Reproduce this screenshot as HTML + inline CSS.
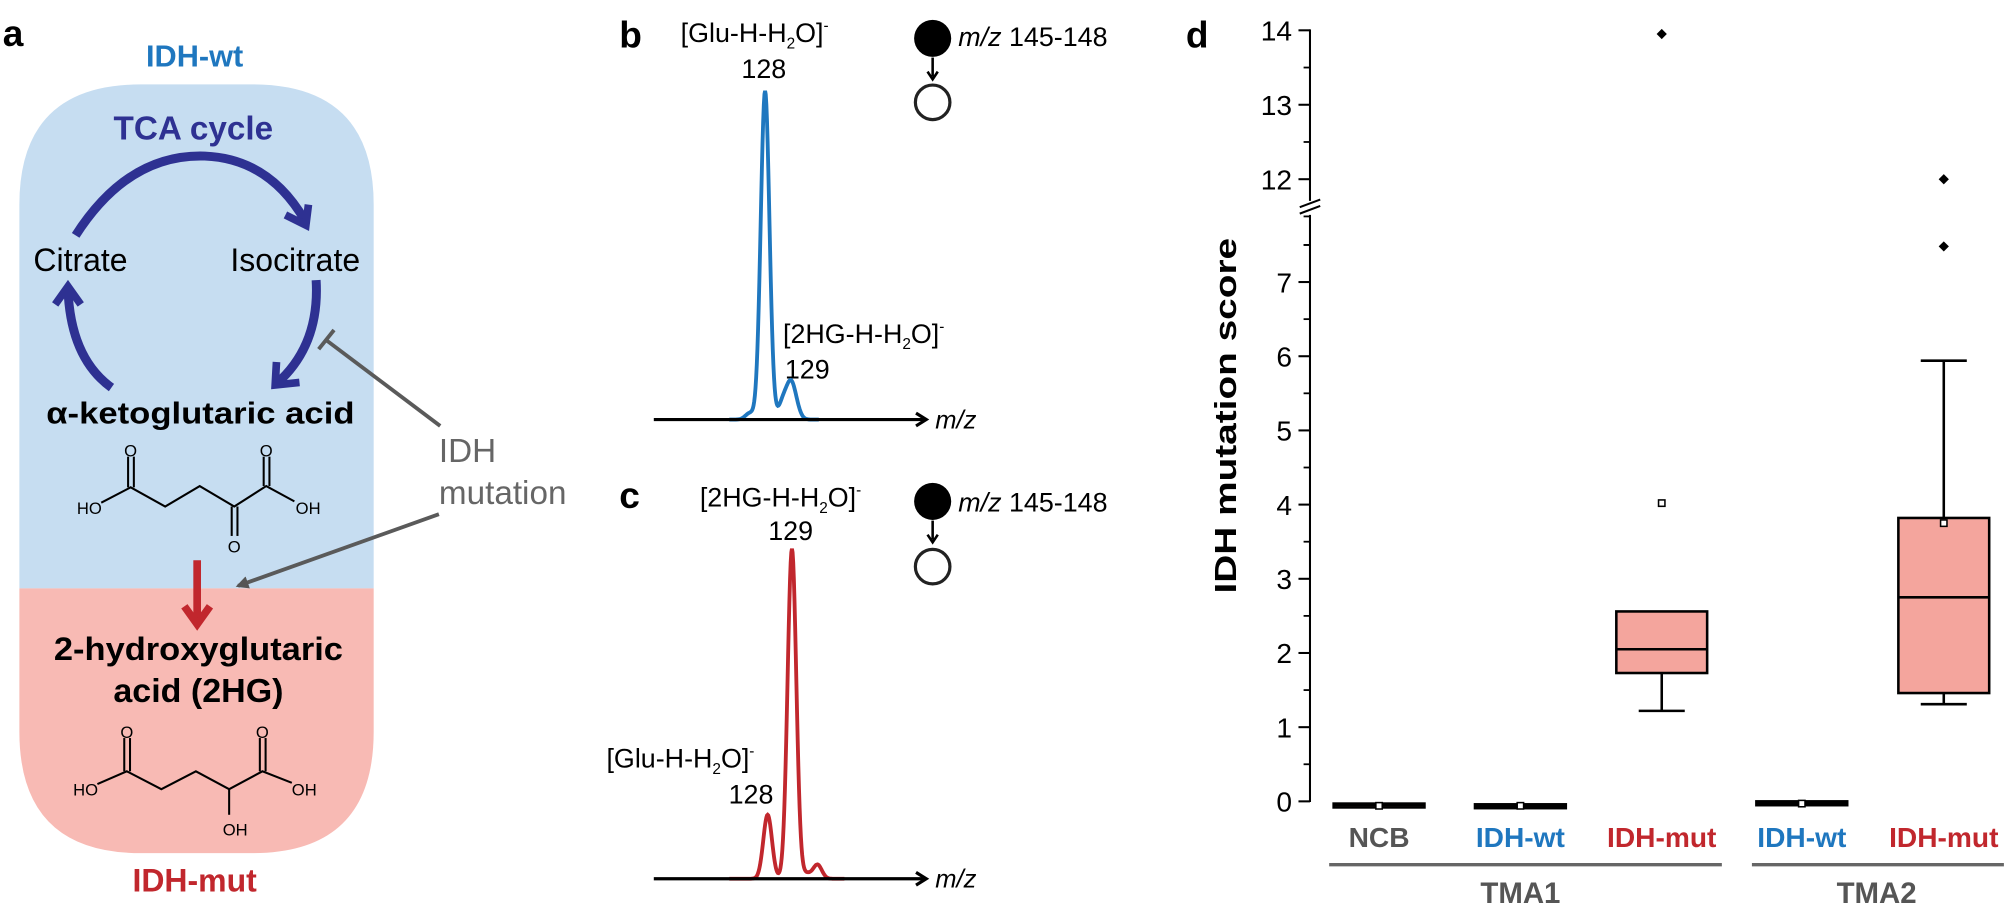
<!DOCTYPE html>
<html><head><meta charset="utf-8">
<style>
html,body{margin:0;padding:0;background:#fff;}
svg{display:block;}
text{font-family:"Liberation Sans",sans-serif;}
.cond{font-family:"Liberation Sans Narrow","Liberation Sans",sans-serif;font-weight:bold;}
</style></head>
<body>
<svg id="fig" width="2006" height="912" viewBox="0 0 1568 713" xmlns="http://www.w3.org/2000/svg">
<defs>
<marker id="gh" markerWidth="10" markerHeight="10" refX="8" refY="5" orient="auto" markerUnits="userSpaceOnUse"><path d="M0,0 L10,5 L0,10 z" fill="#555"/></marker>
</defs>

<!-- Panel a -->
<g>
<text x="2" y="36" font-size="29" font-weight="bold">a</text>
<text x="152" y="52" font-size="24" font-weight="bold" fill="#1f77bf" text-anchor="middle">IDH-wt</text>
<path d="M15,460 L15,160 Q15,66 110,66 L197,66 Q292,66 292,160 L292,460 Z" fill="#c6ddf1"/>
<path d="M15,460 L292,460 L292,572 Q292,667 197,667 L110,667 Q15,667 15,572 Z" fill="#f8bab4"/>
<text x="151" y="109" font-size="26" font-weight="bold" fill="#2e3192" text-anchor="middle">TCA cycle</text>
<g fill="none" stroke="#2e3192" stroke-width="7">
<path d="M59,184 Q100,120 160,122 Q210,124 238,172"/>
<path d="M223,168 L239,176 L241,160" stroke-width="6"/>
<path d="M247,219 Q250,270 216,300"/>
<path d="M216,283 L215,301 L234,299" stroke-width="6"/>
<path d="M87,303 Q55,280 53,226"/>
<path d="M43,238 L53,224 L63,238" stroke-width="6"/>
</g>
<text x="26" y="212" font-size="25">Citrate</text>
<text x="180" y="212" font-size="25">Isocitrate</text>
<text x="36" y="331" font-size="24" font-weight="bold" textLength="241" lengthAdjust="spacingAndGlyphs">α-ketoglutaric acid</text>
<g stroke="#000" stroke-width="1.6" fill="none">
<polyline points="79,393 102,381 129,396 156,380 183,396 208,380 230,392"/>
<line x1="100" y1="381" x2="100" y2="357"/><line x1="104.5" y1="381" x2="104.5" y2="357"/>
<line x1="206" y1="380" x2="206" y2="357"/><line x1="210.5" y1="380" x2="210.5" y2="357"/>
<line x1="181" y1="396" x2="181" y2="419"/><line x1="185.5" y1="396" x2="185.5" y2="419"/>
</g>
<g font-size="13">
<text x="60" y="402">HO</text><text x="231" y="402">OH</text>
<text x="102" y="357" text-anchor="middle">O</text><text x="208" y="357" text-anchor="middle">O</text><text x="183" y="432" text-anchor="middle">O</text>
</g>
<g stroke="#c1272d" stroke-width="6" fill="none">
<line x1="154" y1="438" x2="154" y2="488"/><path d="M144,474 L154,488 L164,474"/>
</g>
<g stroke="#5a5a5a" stroke-width="3" fill="none">
<line x1="344" y1="333" x2="255" y2="266"/><line x1="249" y1="273" x2="261" y2="258"/>
<line x1="343" y1="402" x2="186" y2="458" marker-end="url(#gh)"/>
</g>
<text x="343" y="361" font-size="26" fill="#666">IDH</text>
<text x="343" y="394" font-size="26" fill="#666">mutation</text>
<text x="155" y="516" font-size="25" font-weight="bold" text-anchor="middle" textLength="226" lengthAdjust="spacingAndGlyphs">2-hydroxyglutaric</text>
<text x="155" y="549" font-size="26" font-weight="bold" text-anchor="middle" textLength="133" lengthAdjust="spacingAndGlyphs">acid (2HG)</text>
<g stroke="#000" stroke-width="1.6" fill="none">
<polyline points="76,613 99,603 126,617 153,603 179,617 205,603 228,612"/>
<line x1="97" y1="603" x2="97" y2="577"/><line x1="101.5" y1="603" x2="101.5" y2="577"/>
<line x1="203" y1="603" x2="203" y2="577"/><line x1="207.5" y1="603" x2="207.5" y2="577"/>
<line x1="179" y1="617" x2="179" y2="637"/>
</g>
<g font-size="13">
<text x="57" y="622">HO</text><text x="228" y="622">OH</text>
<text x="99" y="577" text-anchor="middle">O</text><text x="205" y="577" text-anchor="middle">O</text><text x="174" y="653">OH</text>
</g>
<text x="152" y="697" font-size="25" font-weight="bold" fill="#c1272d" text-anchor="middle">IDH-mut</text>
</g>

<!-- Panels b / c -->
<g>
<text x="484" y="37" font-size="29" font-weight="bold">b</text>
<text x="532" y="33" font-size="21">[Glu-H-H<tspan font-size="12" dy="5">2</tspan><tspan dy="-5">O]</tspan><tspan font-size="12" dy="-9">-</tspan></text>
<text x="597" y="61" font-size="21" text-anchor="middle">128</text>
<text x="612" y="268" font-size="21">[2HG-H-H<tspan font-size="12" dy="5">2</tspan><tspan dy="-5">O]</tspan><tspan font-size="12" dy="-9">-</tspan></text>
<text x="631" y="296" font-size="21" text-anchor="middle">129</text>
<path id="specB" fill="none" stroke="#1f77bf" stroke-width="3"/>
<line x1="511" y1="328" x2="723" y2="328" stroke="#000" stroke-width="2.5"/>
<path d="M716,323 L724,328 L716,333" fill="none" stroke="#000" stroke-width="2.5"/>
<text x="731" y="335" font-size="20" font-style="italic">m/z</text>
<circle cx="729" cy="30" r="14.5" fill="#000"/>
<line x1="729" y1="45" x2="729" y2="60" stroke="#000" stroke-width="2"/><path d="M725,56 L729,62 L733,56" fill="none" stroke="#000" stroke-width="2"/>
<circle cx="729" cy="80" r="13.5" fill="none" stroke="#222" stroke-width="2.5"/>
<text x="749" y="36" font-size="21"><tspan font-style="italic">m/z</tspan> 145-148</text>
</g>
<g>
<text x="484" y="397" font-size="29" font-weight="bold">c</text>
<text x="547" y="396" font-size="21">[2HG-H-H<tspan font-size="12" dy="5">2</tspan><tspan dy="-5">O]</tspan><tspan font-size="12" dy="-9">-</tspan></text>
<text x="618" y="422" font-size="21" text-anchor="middle">129</text>
<text x="474" y="600" font-size="21">[Glu-H-H<tspan font-size="12" dy="5">2</tspan><tspan dy="-5">O]</tspan><tspan font-size="12" dy="-9">-</tspan></text>
<text x="587" y="628" font-size="21" text-anchor="middle">128</text>
<path id="specC" fill="none" stroke="#c1272d" stroke-width="3"/>
<line x1="511" y1="687" x2="723" y2="687" stroke="#000" stroke-width="2.5"/>
<path d="M716,682 L724,687 L716,692" fill="none" stroke="#000" stroke-width="2.5"/>
<text x="731" y="694" font-size="20" font-style="italic">m/z</text>
<circle cx="729" cy="392" r="14.5" fill="#000"/>
<line x1="729" y1="407" x2="729" y2="422" stroke="#000" stroke-width="2"/><path d="M725,418 L729,424 L733,418" fill="none" stroke="#000" stroke-width="2"/>
<circle cx="729" cy="443" r="13.5" fill="none" stroke="#222" stroke-width="2.5"/>
<text x="749" y="400" font-size="21"><tspan font-style="italic">m/z</tspan> 145-148</text>
</g>

<!-- Panel d -->
<g id="panelD">
<text x="927" y="37" font-size="29" font-weight="bold">d</text>
<text class="cond" transform="translate(966,325) rotate(-90)" font-size="24" text-anchor="middle" textLength="278" lengthAdjust="spacingAndGlyphs">IDH mutation score</text>
</g>
</svg>
<script>
// Spectra data (peak m/z and relative intensity)
const specBmz = [127.4, 128, 128.7, 129, 129.2];
const specBint = [5, 257, 14, 24, 8];
const specCmz = [128, 129, 129.6, 130.05];
const specCint = [50, 258, 4, 11];

// Box plot data
const categories = ["NCB", "IDH-wt", "IDH-mut", "IDH-wt", "IDH-mut"];
const catColors = ["#555555", "#1f77bf", "#c1272d", "#1f77bf", "#c1272d"];
const whiskerLow = [-0.07, -0.08, 1.22, -0.05, 1.31];
const q1Values = [-0.07, -0.08, 1.73, -0.05, 1.46];
const medianValues = [-0.05, -0.06, 2.05, -0.03, 2.75];
const q3Values = [-0.03, -0.04, 2.56, 0.0, 3.82];
const whiskerHigh = [-0.03, -0.04, 2.56, 0.0, 5.94];
const meanValues = [-0.06, -0.06, 4.02, -0.03, 3.75];
const outlierGroup = [2, 4, 4];
const outlierValues = [13.95, 12.0, 7.48];
const lowerTicks = [0, 1, 2, 3, 4, 5, 6, 7];
const upperTicks = [12, 13, 14];
const groupNames = ["TMA1", "TMA2"];

const NS = "http://www.w3.org/2000/svg";
function mk(tag, attrs, parent) {
  const e = document.createElementNS(NS, tag);
  for (const k in attrs) e.setAttribute(k, attrs[k]);
  (parent || document.getElementById('fig')).appendChild(e);
  return e;
}

// spectra
function specPath(mzs, ints, x128, pxPerMz, base, x0, x1) {
  const sig = 3.4;
  let d = "";
  for (let x = x0; x <= x1; x += 0.5) {
    let y = 0;
    for (let i = 0; i < mzs.length; i++) {
      const cx = x128 + (mzs[i] - 128) * pxPerMz;
      y += ints[i] * Math.exp(-((x - cx) ** 2) / (2 * sig * sig));
    }
    d += (d ? "L" : "M") + x.toFixed(1) + "," + (base - y).toFixed(1);
  }
  return d;
}
document.getElementById('specB').setAttribute('d', specPath(specBmz, specBint, 598, 20, 328, 570, 640));
document.getElementById('specC').setAttribute('d', specPath(specCmz, specCint, 600, 19, 687, 570, 660));

// panel d scales
const g = document.getElementById('panelD');
const axisX = 1024;
function yLower(v) { return 626.5 - v * 58.0; }
function yUpper(v) { return 23.7 + (14 - v) * 58.2; }
function yVal(v) { return v >= 10 ? yUpper(v) : yLower(v); }
const xCenters = [1078, 1188.5, 1299, 1408.5, 1519.5];
const boxHalf = 35.5;
const capHalf = 18;

let el;
el = mk('line', {x1: axisX, y1: 23, x2: axisX, y2: 157, stroke: '#000', 'stroke-width': 1.6}, g);


el = mk('line', {x1: axisX, y1: 168, x2: axisX, y2: 627, stroke: '#000', 'stroke-width': 1.6}, g);


el = mk('path', {d: 'M1016,162 L1032,156 M1016,167 L1032,161', stroke: '#000', 'stroke-width': 1.6, fill: 'none'}, g);



function ticks(list, yf, minTop, minBottom) {
  list.forEach(v => {
    const y = yf(v);
    el = mk('line', {x1: axisX - 9, y1: y, x2: axisX, y2: y, stroke: '#000', 'stroke-width': 1.6}, g);
    
    
    el = mk('text', {x: 1010, y: y + 8, 'font-size': 22, 'text-anchor': 'end'}, g);
    el.textContent = String(v);
    
    
    const ym = yf(v + 0.5);
    if (ym >= minTop && ym <= minBottom) {
      el = mk('line', {x1: axisX - 5, y1: ym, x2: axisX, y2: ym, stroke: '#000', 'stroke-width': 1.4}, g);
      
      
    }
  });
}
ticks(lowerTicks, yLower, 168, 627);
ticks(upperTicks, yUpper, 22, 157);
el = mk('line', {x1: axisX - 5, y1: yUpper(11.5), x2: axisX, y2: yUpper(11.5), stroke: '#000', 'stroke-width': 1.4}, g);


el = mk('line', {x1: axisX - 5, y1: yLower(7.5), x2: axisX, y2: yLower(7.5), stroke: '#000', 'stroke-width': 1.4}, g);



categories.forEach((c, i) => {
  const cx = xCenters[i];
  const yq1 = yLower(q1Values[i]), yq3 = yLower(q3Values[i]);
  if (whiskerHigh[i] > q3Values[i] + 0.01) {
    el = mk('line', {x1: cx, y1: yLower(whiskerHigh[i]), x2: cx, y2: yq3, stroke: '#000', 'stroke-width': 2}, g);
    
    
    el = mk('line', {x1: cx - capHalf, y1: yLower(whiskerHigh[i]), x2: cx + capHalf, y2: yLower(whiskerHigh[i]), stroke: '#000', 'stroke-width': 2}, g);
    
    
  }
  if (whiskerLow[i] < q1Values[i] - 0.01) {
    el = mk('line', {x1: cx, y1: yq1, x2: cx, y2: yLower(whiskerLow[i]), stroke: '#000', 'stroke-width': 2}, g);
    
    
    el = mk('line', {x1: cx - capHalf, y1: yLower(whiskerLow[i]), x2: cx + capHalf, y2: yLower(whiskerLow[i]), stroke: '#000', 'stroke-width': 2}, g);
    
    
  }
  const h = Math.max(yq1 - yq3, 3);
  el = mk('rect', {x: cx - boxHalf, y: yq3, width: boxHalf * 2, height: h, fill: '#f4a59d', stroke: '#000', 'stroke-width': 2}, g);
  
  
  el = mk('line', {x1: cx - boxHalf, y1: yLower(medianValues[i]), x2: cx + boxHalf, y2: yLower(medianValues[i]), stroke: '#000', 'stroke-width': 2}, g);
  
  
  const ym = yLower(meanValues[i]);
  el = mk('rect', {x: cx - 2.5, y: ym - 2.5, width: 5, height: 5, fill: '#fff', stroke: '#000', 'stroke-width': 1.2}, g);
  
  
  el = mk('text', {x: cx, y: 662, 'font-size': 22, 'text-anchor': 'middle', fill: catColors[i], class: 'cond'}, g);
  el.textContent = c;
  
  
});

outlierValues.forEach((v, k) => {
  const cx = xCenters[outlierGroup[k]];
  const y = yVal(v);
  el = mk('path', {d: `M${cx - 4},${y} L${cx},${y - 4} L${cx + 4},${y} L${cx},${y + 4} Z`, fill: '#000'}, g);
  
  
});

const groupSpans = [[0, 2], [3, 4]];
groupNames.forEach((n, k) => {
  const a = xCenters[groupSpans[k][0]] - 39, b = Math.min(xCenters[groupSpans[k][1]] + 47, 1568);
  el = mk('line', {x1: a, y1: 676, x2: b, y2: 676, stroke: '#666', 'stroke-width': 2.6}, g);
  
  
  el = mk('text', {x: k === 0 ? xCenters[1] : 1467, y: 706, 'font-size': 23, 'text-anchor': 'middle', fill: '#555', class: 'cond'}, g);
  el.textContent = n;
  
  
});
</script>
</body></html>
